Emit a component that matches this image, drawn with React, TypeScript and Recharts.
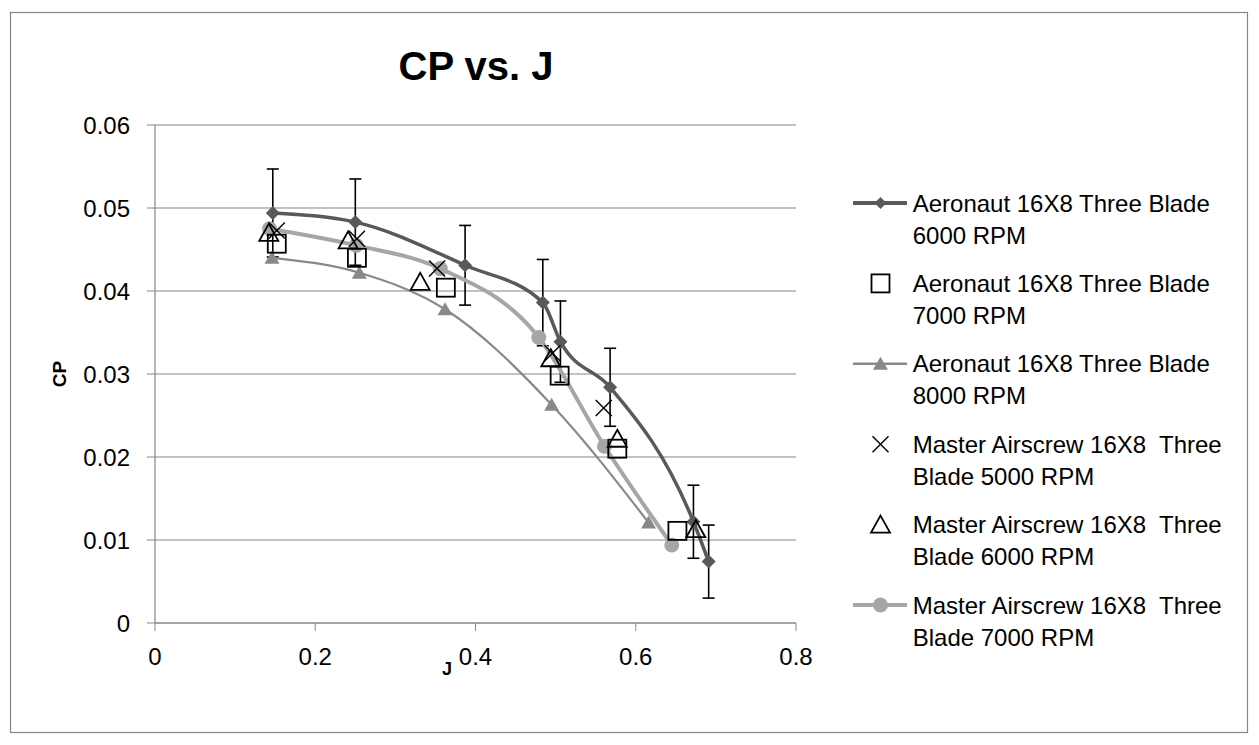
import React from 'react';
import { ScatterChart, Scatter, XAxis, YAxis, CartesianGrid, ErrorBar } from 'recharts';

// ---- data ----
const seriesNames = [
  ['Aeronaut 16X8 Three Blade', '6000 RPM'],
  ['Aeronaut 16X8 Three Blade', '7000 RPM'],
  ['Aeronaut 16X8 Three Blade', '8000 RPM'],
  ['Master Airscrew 16X8  Three', 'Blade 5000 RPM'],
  ['Master Airscrew 16X8  Three', 'Blade 6000 RPM'],
  ['Master Airscrew 16X8  Three', 'Blade 7000 RPM'],
];

const aero6000J = [0.147, 0.25, 0.387, 0.484, 0.506, 0.568, 0.672, 0.691];
const aero6000CP = [0.0494, 0.0483, 0.0431, 0.0386, 0.0339, 0.0284, 0.0122, 0.0074];
const aero6000Err = [0.0053, 0.0052, 0.0048, 0.0052, 0.0049, 0.0047, 0.0044, 0.0044];

const aero7000J = [0.152, 0.252, 0.363, 0.505, 0.577, 0.652];
const aero7000CP = [0.0457, 0.044, 0.0404, 0.0298, 0.021, 0.0111];

const aero8000J = [0.146, 0.255, 0.362, 0.495, 0.616];
const aero8000CP = [0.044, 0.0422, 0.0378, 0.0263, 0.0121];

const master5000J = [0.152, 0.252, 0.352, 0.496, 0.56];
const master5000CP = [0.0473, 0.0463, 0.0427, 0.0325, 0.0259];

const master6000J = [0.142, 0.241, 0.331, 0.494, 0.577, 0.675];
const master6000CP = [0.047, 0.0461, 0.0411, 0.0319, 0.0222, 0.0113];

const master7000J = [0.143, 0.251, 0.356, 0.479, 0.561, 0.645];
const master7000CP = [0.0475, 0.0455, 0.0427, 0.0344, 0.0213, 0.0094];

const xTicks = [0, 0.2, 0.4, 0.6, 0.8];
const yTicks = [0, 0.01, 0.02, 0.03, 0.04, 0.05, 0.06];

const zip = (xs: number[], ys: number[], es?: number[]) =>
  xs.map((x, i) => ({ x, y: ys[i], err: es ? es[i] : 0 }));

const dAero6000 = zip(aero6000J, aero6000CP, aero6000Err);
const dAero7000 = zip(aero7000J, aero7000CP);
const dAero8000 = zip(aero8000J, aero8000CP);
const dMaster5000 = zip(master5000J, master5000CP);
const dMaster6000 = zip(master6000J, master6000CP);
const dMaster7000 = zip(master7000J, master7000CP);

// ---- styles ----
const C_DARK = '#595959';
const C_MID = '#898989';
const C_LIGHT = '#a6a6a6';
const FONT = '"Liberation Sans", Arial, sans-serif';

// ---- marker shapes ----
const diamond = (cx: number, cy: number, r = 7) => (
  <polygon points={`${cx},${cy - r} ${cx + r},${cy} ${cx},${cy + r} ${cx - r},${cy}`} fill={C_DARK} />
);
const square = (cx: number, cy: number) => (
  <rect x={cx - 9} y={cy - 9} width={18} height={18} fill="none" stroke="#000" strokeWidth={1.8} />
);
const filledTri = (cx: number, cy: number) => (
  <polygon points={`${cx},${cy - 7} ${cx + 7.5},${cy + 6} ${cx - 7.5},${cy + 6}`} fill={C_MID} />
);
const xMark = (cx: number, cy: number) => (
  <g stroke="#000" strokeWidth={1.4}>
    <line x1={cx - 8} y1={cy - 8} x2={cx + 8} y2={cy + 8} />
    <line x1={cx - 8} y1={cy + 8} x2={cx + 8} y2={cy - 8} />
  </g>
);
const openTri = (cx: number, cy: number) => (
  <polygon points={`${cx},${cy - 9} ${cx + 9.5},${cy + 8} ${cx - 9.5},${cy + 8}`} fill="none" stroke="#000" strokeWidth={1.8} />
);
const circle = (cx: number, cy: number) => <circle cx={cx} cy={cy} r={7.5} fill={C_LIGHT} />;

const mk = (fn: (cx: number, cy: number) => React.ReactElement) => (p: any) =>
  p && p.cx != null && p.cy != null ? fn(p.cx, p.cy) : <g />;

const legendItems = [
  { line: C_DARK, w: 4, marker: (cx: number, cy: number) => diamond(cx, cy, 6) },
  { line: null, w: 0, marker: square },
  { line: C_MID, w: 2.5, marker: filledTri },
  { line: null, w: 0, marker: xMark },
  { line: null, w: 0, marker: openTri },
  { line: C_LIGHT, w: 4, marker: circle },
];

export default function App() {
  return (
    <div style={{ position: 'absolute', left: 0, top: 0, width: 1259, height: 745, background: '#fff' }}>
      <ScatterChart
        width={1259}
        height={745}
        margin={{ top: 125, right: 463, left: 0, bottom: 0 }}
        style={{ position: 'absolute', left: 0, top: 0 }}
      >
        <CartesianGrid vertical={false} stroke="#868686" strokeWidth={1.2} />
        <XAxis
          type="number"
          dataKey="x"
          domain={[0, 0.8]}
          ticks={xTicks}
          height={122}
          stroke="#868686"
          tickSize={8}
          tickMargin={17}
          tick={{ fontFamily: FONT, fontSize: 24, fill: '#000' }}
          axisLine={{ stroke: '#868686', strokeWidth: 1.2 }}
          tickLine={{ stroke: '#868686' }}
          allowDataOverflow
        />
        <YAxis
          type="number"
          dataKey="y"
          domain={[0, 0.06]}
          ticks={yTicks}
          width={155}
          tickSize={8}
          tickMargin={17}
          tick={{ fontFamily: FONT, fontSize: 24, fill: '#000' }}
          axisLine={{ stroke: '#868686', strokeWidth: 1.2 }}
          tickLine={{ stroke: '#868686' }}
          allowDataOverflow
        />
        <Scatter
          data={dMaster7000}
          isAnimationActive={false}
          line={{ stroke: C_LIGHT, strokeWidth: 4 }}
          lineJointType="monotoneX"
          shape={mk(circle)}
        />
        <Scatter
          data={dAero8000}
          isAnimationActive={false}
          line={{ stroke: C_MID, strokeWidth: 2.2 }}
          lineJointType="monotoneX"
          shape={mk(filledTri)}
        />
        <Scatter
          data={dAero6000}
          isAnimationActive={false}
          line={{ stroke: C_DARK, strokeWidth: 3.5 }}
          lineJointType="monotoneX"
          shape={mk((cx, cy) => diamond(cx, cy, 7))}
        >
          <ErrorBar dataKey="err" direction="y" width={6} stroke="#000" strokeWidth={1.6} />
        </Scatter>
        <Scatter data={dAero7000} isAnimationActive={false} shape={mk(square)} />
        <Scatter data={dMaster5000} isAnimationActive={false} shape={mk(xMark)} />
        <Scatter data={dMaster6000} isAnimationActive={false} shape={mk(openTri)} />
      </ScatterChart>
      <svg
        width={1259}
        height={745}
        style={{ position: 'absolute', left: 0, top: 0, pointerEvents: 'none' }}
        fontFamily={FONT}
      >
        <rect x={10.5} y={12.5} width={1237} height={720} fill="none" stroke="#868686" strokeWidth={1.2} />
        <text x={476} y={80} textAnchor="middle" fontSize={40} fontWeight="bold" fill="#000">
          CP vs. J
        </text>
        <text x={447} y={675} textAnchor="middle" fontSize={18} fontWeight="bold" fill="#000">
          J
        </text>
        <text
          transform="translate(66,374) rotate(-90)"
          textAnchor="middle"
          fontSize={19}
          fontWeight="bold"
          fill="#000"
        >
          CP
        </text>
        {legendItems.map((it, i) => {
          const cy = 203 + i * 80.4;
          return (
            <g key={i}>
              {it.line && <line x1={853} x2={907} y1={cy} y2={cy} stroke={it.line} strokeWidth={it.w} />}
              {it.marker(880.5, cy)}
              <text x={912.7} y={cy + 8.6} fontSize={24} fill="#000" style={{ whiteSpace: 'pre' }}>
                {seriesNames[i][0]}
              </text>
              <text x={912.7} y={cy + 8.6 + 32} fontSize={24} fill="#000" style={{ whiteSpace: 'pre' }}>
                {seriesNames[i][1]}
              </text>
            </g>
          );
        })}
      </svg>
    </div>
  );
}
